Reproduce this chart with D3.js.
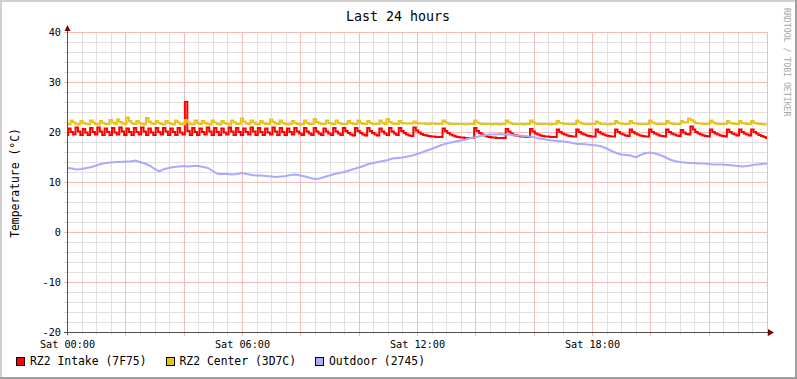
<!DOCTYPE html>
<html><head><meta charset="utf-8">
<script src="https://cdn.jsdelivr.net/npm/d3@7"></script>
<style>
html,body{margin:0;padding:0;background:#fff;}
svg{display:block;}
text{font-family:"DejaVu Sans Mono",monospace;fill:#000;}
</style>
</head><body><div id="chart"></div>
<script>
// ---- data (5-minute samples from Sat 00:00 to Sun 00:00) ----
const intake = [
19.4,20.7,20.0,19.5,20.9,20.1,19.4,20.6,19.9,19.4,20.8,20.0,
19.5,20.9,20.1,19.4,20.7,20.0,19.4,20.8,19.9,19.5,20.9,20.1,
19.4,20.7,20.0,19.4,20.8,20.0,19.5,20.9,20.1,19.4,20.7,19.9,
19.4,20.8,20.0,19.5,20.8,20.1,19.4,20.7,20.0,19.4,20.8,19.9,
19.5,26.0,20.2,19.4,20.8,20.0,19.4,20.7,20.0,19.5,20.9,20.1,
19.4,20.8,20.0,19.4,20.7,19.9,19.5,20.9,20.1,19.4,20.8,20.0,
19.4,20.7,20.0,19.5,20.9,20.1,19.4,20.8,20.0,19.4,20.7,19.9,
19.5,20.9,20.1,19.4,20.8,20.0,19.4,20.7,20.0,19.5,20.8,20.1,
19.7,19.4,20.8,20.1,19.7,19.4,20.8,20.1,19.7,19.4,20.7,20.1,
19.7,19.4,20.8,20.1,19.7,19.4,20.8,20.2,19.8,19.5,19.3,20.8,
20.2,19.8,19.5,19.3,20.8,20.2,19.8,19.5,19.3,20.7,20.1,19.7,
19.4,20.8,20.1,19.7,19.4,20.8,20.2,19.8,19.5,19.3,19.2,20.9,
20.3,19.9,19.6,19.4,19.3,19.2,19.1,19.1,19.0,19.0,19.0,20.7,
20.2,19.8,19.5,19.3,19.1,19.0,18.9,18.9,18.8,18.8,18.8,18.8,
20.8,20.2,19.8,19.5,19.3,19.1,19.0,18.9,18.9,18.8,18.8,18.8,
18.8,20.6,20.1,19.7,19.4,19.3,19.2,19.1,19.1,19.0,19.0,20.6,
20.1,19.7,19.5,19.3,19.2,19.1,19.1,19.0,19.0,19.0,20.5,20.0,
19.7,19.5,19.3,19.2,19.1,19.1,20.5,20.0,19.7,19.5,19.3,19.2,
19.1,19.1,20.5,20.0,19.7,19.5,19.3,19.2,19.1,19.1,20.5,20.0,
19.7,19.5,19.3,19.2,20.5,20.0,19.7,19.5,19.3,19.2,19.1,19.1,
20.5,20.0,19.7,19.5,19.3,19.2,19.1,20.5,20.0,19.7,19.5,19.3,
19.2,20.4,19.9,19.6,19.5,21.1,20.5,20.0,19.7,19.5,19.3,19.2,
19.1,20.5,20.0,19.7,19.5,19.3,19.2,19.1,20.5,20.0,19.7,19.5,
19.3,20.5,20.0,19.7,19.5,19.3,20.5,20.0,19.7,19.4,19.2,19.0,
18.8];

const center = [
21.6,21.5,22.3,21.9,21.6,21.5,22.2,21.8,21.6,21.5,22.3,21.9,
21.6,21.5,22.2,21.8,21.6,21.6,22.4,21.9,21.6,22.5,22.0,21.7,
21.6,22.9,22.2,21.7,21.6,22.2,21.8,21.6,21.5,22.8,22.1,21.7,
21.6,22.2,21.8,21.6,21.5,22.2,21.8,21.6,21.5,22.3,21.9,21.6,
21.5,22.4,21.9,21.6,21.5,22.3,21.8,21.6,22.2,21.8,21.6,21.5,
22.3,21.9,21.6,21.5,22.2,21.8,21.6,21.5,22.3,21.9,21.6,21.6,
22.7,22.1,21.7,21.6,22.3,21.9,21.6,21.5,22.2,21.8,21.6,21.6,
22.5,22.0,21.7,21.6,22.3,21.8,21.6,21.5,21.6,22.2,21.8,21.6,
21.5,21.6,22.3,21.8,21.6,21.6,22.6,22.0,21.7,21.6,21.6,22.3,
21.8,21.6,21.6,22.3,21.8,21.6,21.6,21.6,22.2,21.8,21.6,21.6,
22.3,21.8,21.6,21.6,22.2,21.8,21.6,21.6,21.6,22.3,21.8,21.6,
22.6,22.0,21.7,21.6,21.6,22.2,21.8,21.7,21.7,21.7,21.7,22.1,
21.8,21.7,21.7,21.7,21.6,21.6,21.7,21.7,21.6,21.6,21.6,22.3,
21.9,21.7,21.6,21.6,21.6,21.6,21.6,21.6,21.5,21.6,21.6,21.6,
22.3,21.9,21.7,21.6,21.6,21.6,21.6,21.5,21.6,21.6,21.5,21.6,
21.6,22.3,21.9,21.7,21.6,21.6,21.6,21.6,21.5,21.6,21.6,22.3,
21.9,21.7,21.6,21.6,21.6,21.6,21.6,21.5,21.6,21.6,22.2,21.8,
21.7,21.6,21.6,21.6,21.6,21.6,22.3,21.9,21.7,21.6,21.6,21.6,
21.6,21.6,22.1,21.8,21.6,21.6,21.6,21.5,21.6,21.6,22.2,21.8,
21.7,21.6,21.6,21.6,22.2,21.8,21.7,21.6,21.6,21.6,21.6,21.6,
22.3,21.9,21.7,21.6,21.6,21.6,21.6,22.2,21.8,21.7,21.6,21.6,
21.6,22.2,21.9,21.9,22.7,22.4,22.1,21.8,21.7,21.7,21.6,21.6,
21.6,22.3,21.9,21.7,21.6,21.6,21.6,21.6,22.2,21.8,21.7,21.6,
21.6,22.2,21.8,21.7,21.6,21.6,22.2,21.8,21.7,21.6,21.6,21.5,
21.5];

// 10-minute samples
const outdoor = [
12.8,12.7,12.5,12.6,12.8,13.0,13.3,13.6,13.8,13.9,14.0,14.0,
14.1,14.1,14.3,14.0,13.7,13.3,12.6,12.1,12.6,12.8,13.0,13.1,
13.2,13.1,13.2,13.2,13.0,12.8,12.2,11.6,11.6,11.6,11.5,11.6,
11.8,11.6,11.4,11.3,11.3,11.2,11.1,11.0,11.1,11.2,11.4,11.5,
11.3,11.1,10.8,10.6,10.7,11.0,11.3,11.6,11.8,12.0,12.3,12.6,
12.9,13.2,13.6,13.8,14.0,14.2,14.4,14.7,14.8,14.9,15.1,15.3,
15.6,15.9,16.3,16.6,17.0,17.4,17.7,17.9,18.1,18.3,18.5,18.8,
18.9,19.2,19.4,19.5,19.5,19.6,19.5,19.5,19.3,19.3,19.2,19.1,
19.0,18.7,18.6,18.4,18.3,18.2,18.1,18.0,17.8,17.6,17.6,17.5,
17.4,17.3,17.1,16.7,16.2,15.8,15.5,15.4,15.3,14.9,15.4,15.8,
15.9,15.7,15.4,15.0,14.5,14.2,14.0,13.9,13.8,13.8,13.7,13.7,
13.6,13.5,13.5,13.5,13.4,13.3,13.2,13.1,13.2,13.4,13.5,13.6,
13.7];

const seriesNames = ["RZ2 Intake (7F75)", "RZ2 Center (3D7C)", "Outdoor (2745)"];
const seriesColors = ["#ff0000", "#e8c31a", "#aaaaff"];
const yTickValues = [-20, -10, 0, 10, 20, 30, 40];
const xTickHours = [0, 6, 12, 18];
const xTickLabels = ["Sat 00:00", "Sat 06:00", "Sat 12:00", "Sat 18:00"];
const titleText = "Last 24 hours";
const yLabel = "Temperature (°C)";
const watermark = "RRDTOOL / TOBI OETIKER";

// ---- drawing ----
const W = 797, H = 379;
const L = 67, R = 767, T = 32, B = 332;
const x = d3.scaleLinear().domain([0, 24]).range([L, R]);
const y = d3.scaleLinear().domain([-20, 40]).range([B, T]);

const svg = d3.select("#chart").append("svg").attr("width", W).attr("height", H);
svg.append("rect").attr("width", W).attr("height", H).attr("fill", "#ffffff");
// frame
svg.append("rect").attr("x",0).attr("y",0).attr("width",W).attr("height",2).attr("fill","#d0d0d0");
svg.append("rect").attr("x",0).attr("y",0).attr("width",2).attr("height",H).attr("fill","#d0d0d0");
svg.append("rect").attr("x",0).attr("y",H-2).attr("width",W).attr("height",2).attr("fill","#a0a0a0");
svg.append("rect").attr("x",W-2).attr("y",0).attr("width",2).attr("height",H).attr("fill","#a0a0a0");

const grid = svg.append("g").attr("shape-rendering", "crispEdges");
const xMinor = d3.range(0, 24.001, 0.5).filter(h => h % 2 !== 0);
const xMajor = d3.range(0, 24.001, 2);
const yMinor = d3.range(-20, 40.001, 2).filter(v => v % 10 !== 0);
const yMajor = d3.range(-20, 40.001, 10);

grid.selectAll(".hmin").data(yMinor).join("line")
  .attr("x1", L - 3).attr("x2", R + 1).attr("y1", d => Math.round(y(d)) + 0.5).attr("y2", d => Math.round(y(d)) + 0.5)
  .attr("stroke", "#e0e0e0");
grid.selectAll(".vmin").data(xMinor).join("line")
  .attr("y1", T).attr("y2", B + 3).attr("x1", d => Math.round(x(d)) + 0.5).attr("x2", d => Math.round(x(d)) + 0.5)
  .attr("stroke", "#e0e0e0");
grid.selectAll(".hmaj").data(yMajor).join("line")
  .attr("x1", L - 3).attr("x2", R + 1).attr("y1", d => Math.round(y(d)) + 0.5).attr("y2", d => Math.round(y(d)) + 0.5)
  .attr("stroke", "#f5bcbc");
grid.selectAll(".vmaj").data(xMajor).join("line")
  .attr("y1", T).attr("y2", B + 4).attr("x1", d => Math.round(x(d)) + 0.5).attr("x2", d => Math.round(x(d)) + 0.5)
  .attr("stroke", "#f5bcbc");

// data lines
const step5 = d3.line().x((d, i) => x(i * 5 / 60)).y(d => y(d)).curve(d3.curveStep);
const step10 = d3.line().x((d, i) => x(i * 10 / 60)).y(d => y(d));
const lines = svg.append("g").attr("fill", "none").attr("stroke-width", 2).attr("stroke-linejoin", "miter");
lines.append("path").attr("d", step5(intake)).attr("stroke", seriesColors[0]);
lines.append("path").attr("d", step5(center)).attr("stroke", seriesColors[1]);
lines.append("path").attr("d", step10(outdoor)).attr("stroke", seriesColors[2]);

// axes
const ax = svg.append("g").attr("shape-rendering", "crispEdges");
ax.append("line").attr("x1", L - 3).attr("x2", R + 4).attr("y1", B + 0.5).attr("y2", B + 0.5).attr("stroke", "#505050");
ax.append("line").attr("x1", L + 0.5).attr("x2", L + 0.5).attr("y1", T - 3).attr("y2", B + 3).attr("stroke", "#505050");
svg.append("path").attr("d", `M${R + 1},${B - 3} L${R + 7},${B + 0.5} L${R + 1},${B + 4} Z`).attr("fill", "#7f0000");
svg.append("path").attr("d", `M${L - 2.5},${T - 1} L${L + 0.5},${T - 7} L${L + 3.5},${T - 1} Z`).attr("fill", "#7f0000");

const yAxis = d3.axisLeft(y).tickValues(yTickValues).tickFormat(d => String(d)).tickSize(0).tickPadding(6);
const gy = svg.append("g").attr("transform", `translate(${L},0)`).call(yAxis);
gy.select(".domain").remove();
gy.selectAll("text").attr("font-family", "DejaVu Sans Mono").attr("font-size", "10.2px").attr("fill", "#000");

const xAxis = d3.axisBottom(x).tickValues(xTickHours).tickFormat((d, i) => xTickLabels[i]).tickSize(0).tickPadding(9);
const gx = svg.append("g").attr("transform", `translate(0,${B})`).call(xAxis);
gx.select(".domain").remove();
gx.selectAll("text").attr("font-family", "DejaVu Sans Mono").attr("font-size", "10.2px").attr("fill", "#000");

// title
svg.append("text").attr("x", 398).attr("y", 21).attr("text-anchor", "middle")
  .attr("font-size", "13.3px").text(titleText);
// y label
svg.append("text").attr("transform", "translate(19,183) rotate(-90)").attr("text-anchor", "middle")
  .attr("font-size", "11.4px").text(yLabel);
// watermark
svg.append("text").attr("transform", "translate(783.5,8) rotate(90)").attr("text-anchor", "start")
  .attr("font-size", "8.2px").style("fill", "#a8a8a8").text(watermark);

// legend
const legendX = [16, 165.5, 315];
const lg = svg.append("g");
seriesNames.forEach((name, i) => {
  lg.append("rect").attr("x", legendX[i] + 0.5).attr("y", 357.5).attr("width", 8).attr("height", 8)
    .attr("fill", seriesColors[i]).attr("stroke", "#000").attr("stroke-width", 1).attr("shape-rendering", "crispEdges");
  lg.append("text").attr("x", legendX[i] + 14).attr("y", 364.5).attr("font-size", "11.4px").text(name);
});
</script>
</body></html>
